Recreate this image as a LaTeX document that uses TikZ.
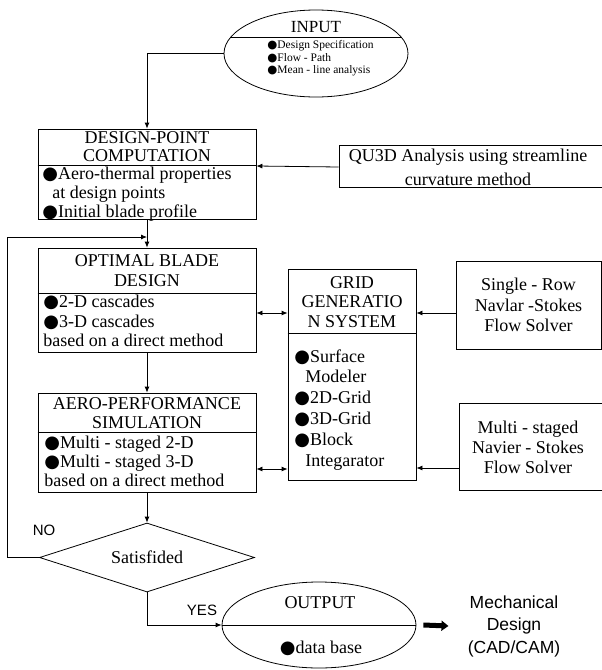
\documentclass[tikz,border=0pt]{standalone}
\usepackage{fontspec}
\setmainfont{Liberation Serif}
\newfontfamily\arialfont{Liberation Sans}
\newfontfamily\symfont{DejaVu Sans}
\usetikzlibrary{shapes.geometric,arrows.meta}
\newcommand{\dotb}{{\symfont ●}}

\begin{document}
\begin{tikzpicture}[x=1pt,y=-1pt,line width=0.8pt,>={Latex[length=6pt,width=5pt]}]
    \tikzset{every node/.append style={inner sep=0pt}}
    \tikzset{blk/.style={draw,minimum width=#1pt},
      txt/.style={font=\fontsize{18}{#1}\selectfont},
      sans/.style={font=\arialfont\fontsize{#1}{22.5}\selectfont}}
    \clip (0,0) rectangle (602,670);
    % input
    \node [draw,ellipse,minimum width=184pt,minimum height=87pt] (input) at (316,53.5) {};
    \begin{scope}
      \clip (input.center) ellipse [x radius=92,y radius=43.5];
      \draw (200,37) -- (430,37);
    \end{scope}
    \node [font=\fontsize{17}{17}\selectfont] (inT) at (316,27) {INPUT};
    \node [font=\fontsize{11.5}{12.5}\selectfont,align=left,anchor=north west] (inB) at (267,40) {\dotb Design Specification\\\dotb Flow - Path\\\dotb Mean - line analysis};
    % left column
    \node [blk=218,minimum height=90pt] (design) at (147,174) {};
    \draw ([yshift=9pt]design.west) -- ([yshift=9pt]design.east);
    \node [txt=18,align=center,anchor=north] (designT) at (147,131) {DESIGN-POINT\\COMPUTATION};
    \node [txt=19,align=left,anchor=north west] (designB) at (42,167) {\dotb Aero-thermal properties\\\hspace*{10pt}at design points\\\dotb Initial blade profile};
    \node [blk=218,minimum height=104pt] (optimal) at (147,300) {};
    \draw ([yshift=7pt]optimal.west) -- ([yshift=7pt]optimal.east);
    \node [txt=20,align=center,anchor=north] (optimalT) at (147,254) {OPTIMAL BLADE\\DESIGN};
    \node [txt=19.5,align=left,anchor=north west] (optimalB) at (43,295) {\dotb 2-D cascades\\\dotb 3-D cascades\\based on a direct method};
    \node [blk=218,minimum height=99pt] (aero) at (147,442.5) {};
    \draw ([yshift=10.5pt]aero.west) -- ([yshift=10.5pt]aero.east);
    \node [txt=19,align=center,anchor=north] (aeroT) at (147,397) {AERO-PERFORMANCE\\SIMULATION};
    \node [txt=19,align=left,anchor=north west] (aeroB) at (44,436) {\dotb Multi - staged 2-D\\\dotb Multi - staged 3-D\\based on a direct method};
    \node [draw,diamond,aspect=3,minimum width=215pt,minimum height=69pt,txt=20] (sat) at (147,557.5) {Satisfided};
    % grid
    \node [blk=128,minimum height=211pt] (grid) at (352,374.5) {};
    \draw ([yshift=41.5pt]grid.west) -- ([yshift=41.5pt]grid.east);
    \node [txt=19.5,align=center,anchor=north] (gridT) at (352,276) {GRID\\GENERATIO\\N SYSTEM};
    \node [txt=20.8,align=left,anchor=north west] (gridB) at (294,349) {\dotb Surface\\\hspace*{11pt}Modeler\\\dotb 2D-Grid\\\dotb 3D-Grid\\\dotb Block\\\hspace*{11pt}Integarator};
    % right column
    \node [blk=301,minimum height=42pt] (qu3d) at (489.5,166) {};
    \node [txt=24,align=center] (qu3dT) at (468,167) {QU3D Analysis using streamline\\curvature method};
    \node [blk=145,minimum height=88pt,txt=20.5,align=center] (single) at (528.5,305) {Single - Row\\Navlar -Stokes\\Flow Solver};
    \node [blk=181,minimum height=87pt] (multi) at (549.5,446.5) {};
    \node [txt=20,align=center] (multiT) at (528,447) {Multi - staged\\Navier - Stokes\\Flow Solver};
    % output
    \node [draw,ellipse,minimum width=194pt,minimum height=86pt] (output) at (319,625) {};
    \draw (output.west) -- (output.east);
    \node [txt=20] (outT) at (320,603) {OUTPUT};
    \node [txt=20] (outB) at (321,648) {\dotb data base};
    \node [sans=17.5,align=center] (mech) at (514,626) {Mechanical\\Design\\(CAD/CAM)};
    \node [sans=15] (no) at (44,530) {NO};
    \node [sans=15] (yes) at (202,610) {YES};
    % connectors
    \coordinate (fb) at (147,237);
    \draw [->] (input.west) -| (design.north);
    \draw [->] (design.south) -- (optimal.north);
    \draw [->] (sat.west) -- ++(-32,0) |- (fb);
    \draw [->] (optimal.south) -- (aero.north);
    \draw [->] (aero.south) -- (sat.north);
    \draw [->] (sat.south) |- (output.west);
    \draw [->] ([yshift=-1pt]qu3d.west) -- ([yshift=8pt]design.east);
    \draw [<->] ([yshift=-13pt]optimal.east) -- ([yshift=61.5pt]grid.west);
    \draw [<->] ([yshift=-26.5pt]aero.east) -- ([yshift=-94.5pt]grid.west);
    \draw [->] ([yshift=-8pt]single.west) -- ([yshift=61.5pt]grid.east);
    \draw [->] ([yshift=-21.5pt]multi.west) -- ([yshift=-93.5pt]grid.east);
    \draw [line width=5pt,-{Triangle[length=7pt,width=10pt]}] ([xshift=7pt]output.east) -- ([xshift=-19pt]mech.west);
\end{tikzpicture}
\end{document}
